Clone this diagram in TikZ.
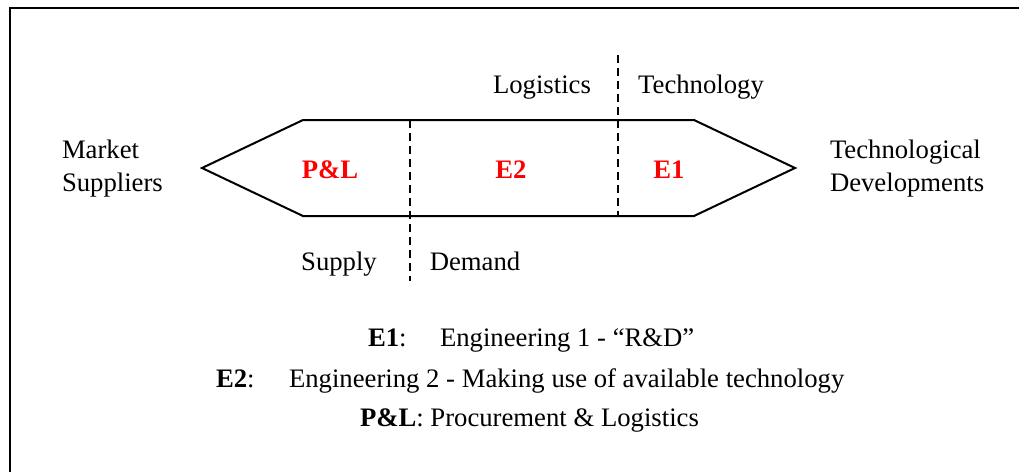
\documentclass[tikz,border=0pt]{standalone}
\usepackage{fontspec}
\setmainfont{Liberation Serif}
\definecolor{labelred}{RGB}{255,0,0}
\begin{document}
\begin{tikzpicture}[x=1pt,y=-1pt,
  txt/.style={anchor=base west,inner sep=0pt,outer sep=0pt,font=\fontsize{26.7}{33}\selectfont},
  ctxt/.style={anchor=base,inner sep=0pt,outer sep=0pt,font=\fontsize{26.7}{33}\selectfont},
  region/.style={ctxt,text=labelred,font=\fontsize{26.7}{33}\selectfont\bfseries},
  outline/.style={line width=2pt,line join=miter},
  divider/.style={line width=1.6pt,dash pattern=on 8pt off 5pt},
  frame/.style={line width=2.6pt}]
\useasboundingbox (0,0) rectangle (1019,471);
\fill[white] (0,0) rectangle (1019,471);
% outer frame (top and left edges)
\coordinate (fr) at (1025,8);
\coordinate (fc) at (10,8);
\coordinate (fb) at (10,480);
\draw[frame] (fr) -- (fc) -- (fb);
% hexagonal band
\coordinate (lt) at (202,168);
\coordinate (tl) at (303,120);
\coordinate (tr) at (694,120);
\coordinate (rt) at (795,168);
\coordinate (br) at (694,216);
\coordinate (bl) at (303,216);
\draw[outline] (lt) -- (tl) -- (tr) -- (rt) -- (br) -- (bl) -- cycle;
% dividers
\coordinate (d1a) at (410,120);
\coordinate (d1b) at (410,281);
\coordinate (d2a) at (618,55);
\coordinate (d2b) at (618,216);
\draw[divider] (d1a) -- (d1b);
\draw[divider] (d2a) -- (d2b);
% region labels
\node[region] (pl) at (330,178) {P\&L};
\node[region] (e2) at (511,178) {E2};
\node[region] (e1) at (669,178) {E1};
% side labels
\node[txt] (mk1) at (62,158) {Market};
\node[txt] (mk2) at (62,191) {Suppliers};
\node[txt] (td1) at (830,158) {Technological};
\node[txt] (td2) at (830,191) {Developments};
\node[ctxt] (log) at (542,93) {Logistics};
\node[ctxt] (tech) at (701,93) {Technology};
\node[ctxt] (sup) at (339,270) {Supply};
\node[ctxt] (dem) at (475,270) {Demand};
% legend
\node[txt] (k1) at (368,346) {\textbf{E1}:};
\node[txt] (v1) at (440,346) {Engineering 1 - “R\&D”};
\node[txt] (k2) at (216,387) {\textbf{E2}:};
\node[txt] (v2) at (289,387) {Engineering 2 - Making use of available technology};
\node[txt] (k3) at (360,426) {\textbf{P\&L}: Procurement \& Logistics};
\end{tikzpicture}
\end{document}
